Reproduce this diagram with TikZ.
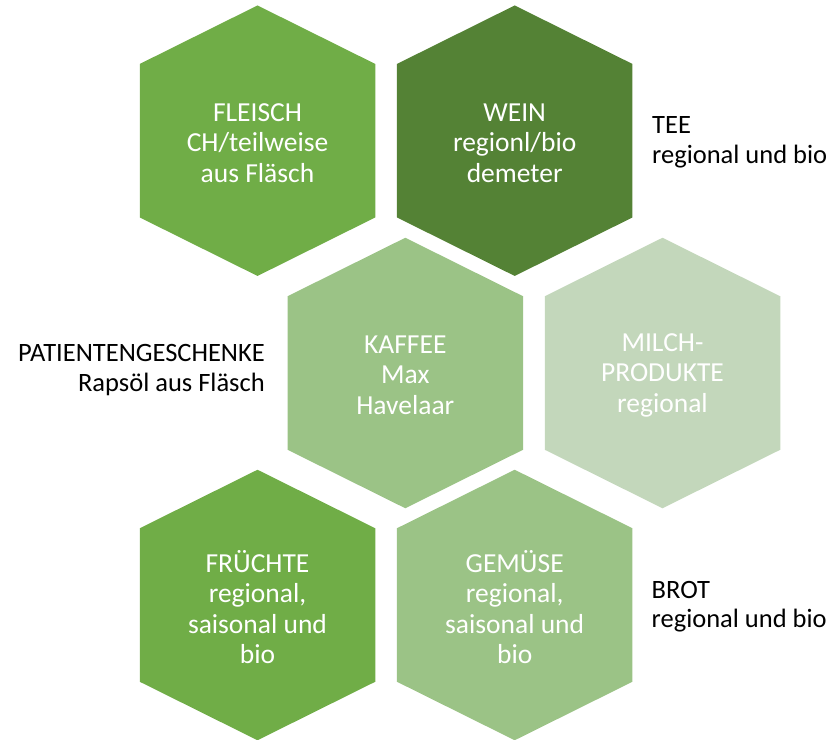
\documentclass[tikz,border=0pt]{standalone}
\usepackage{fontspec}
\setmainfont{Carlito}
\definecolor{gmid}{HTML}{70AD47}
\definecolor{gdark}{HTML}{548235}
\definecolor{glight}{HTML}{9BC386}
\definecolor{gpale}{HTML}{C3D7BB}
\newcommand{\myhex}[3]{%
  \fill[#3] (#1,#2) ++(0,-135.25) -- ++(117.75,58.5) -- ++(0,153.5) -- ++(-117.75,58.5)
    -- ++(-117.75,-58.5) -- ++(0,-153.5) -- cycle;}
\tikzset{
  hextext/.style={text=white, align=center, font=\fontsize{27.5}{30.5}\selectfont, inner sep=0pt},
  sidetext/.style={text=black, font=\fontsize{26.5}{30}\selectfont, inner sep=0pt}
}
\begin{document}
\begin{tikzpicture}[x=1pt,y=-1pt]
\useasboundingbox (0,0) rectangle (827,739);
\myhex{257.5}{140.7}{gmid}
\myhex{514.7}{140.7}{gdark}
\myhex{405.3}{373}{glight}
\myhex{662.5}{373}{gpale}
\myhex{257.5}{605}{gmid}
\myhex{514.7}{605}{glight}
\node[hextext] (fleisch) at (257.5,143) {FLEISCH\\CH/teilweise\\aus Fläsch};
\node[hextext] (wein) at (514.7,143) {WEIN\\regionl/bio\\demeter};
\node[hextext] (kaffee) at (405.3,375) {KAFFEE\\Max\\Havelaar};
\node[hextext] (milch) at (662.5,375) {MILCH-\\PRODUKTE\\regional};
\node[hextext] (fruechte) at (257.5,607) {FRÜCHTE\\regional,\\saisonal und\\bio};
\node[hextext] (gemuese) at (514.7,607) {GEMÜSE\\regional,\\saisonal und\\bio};
\node[sidetext, anchor=base west] (tee) at (652,133.3) {TEE};
\node[sidetext, anchor=base west] (teesub) at (652,163.3) {regional und bio};
\node[sidetext, anchor=base east] (pat) at (265,361.7) {PATIENTENGESCHENKE};
\node[sidetext, anchor=base east] (patsub) at (265,391.7) {Rapsöl aus Fläsch};
\node[sidetext, anchor=base west] (brot) at (651.5,598.3) {BROT};
\node[sidetext, anchor=base west] (brotsub) at (651.5,627) {regional und bio};
\end{tikzpicture}
\end{document}
